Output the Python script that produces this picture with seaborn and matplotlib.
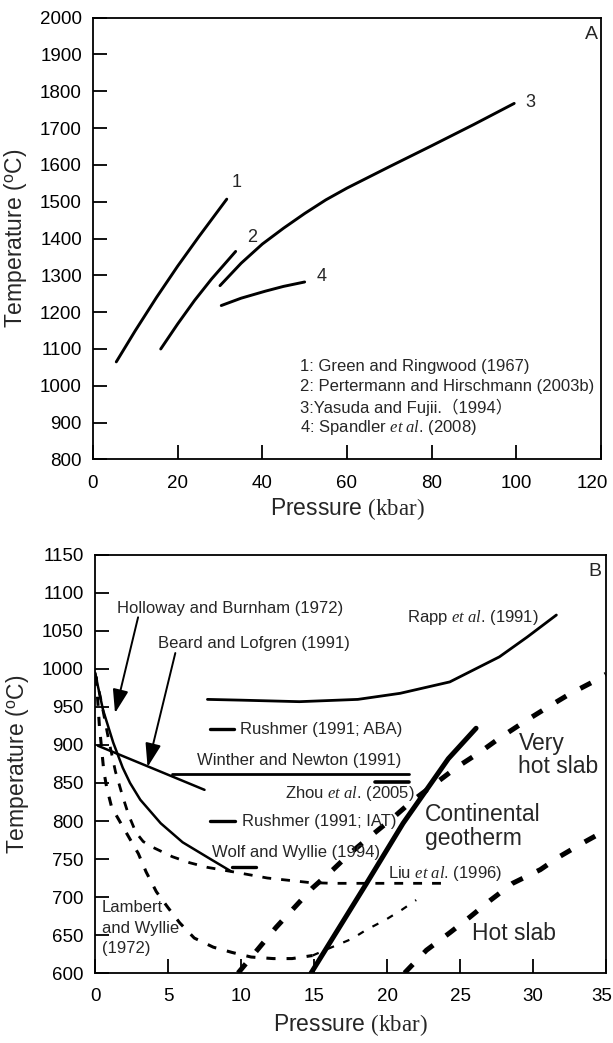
import matplotlib
matplotlib.use("Agg")
import matplotlib.pyplot as plt
import matplotlib.transforms as mtransforms
import seaborn as sns

sns.set_theme(style="ticks")
plt.rcParams["font.family"] = ["Liberation Sans", "Noto Sans CJK SC", "DejaVu Sans"]
plt.rcParams["mathtext.fontset"] = "custom"
plt.rcParams["mathtext.rm"] = "Liberation Serif"
plt.rcParams["mathtext.it"] = "Liberation Serif:italic"
plt.rcParams["mathtext.sf"] = "Liberation Sans"

# ---------------- Panel A: solidus curves ----------------
p_a1 = [5.5, 10, 15, 20, 25, 31.6]
t_a1 = [1065, 1150, 1240, 1325, 1405, 1507]
p_a2 = [16, 20, 24, 28, 33.7]
t_a2 = [1100, 1168, 1232, 1290, 1365]
p_a3 = [30, 35, 40, 45, 50, 55, 60, 70, 80, 90, 99.5]
t_a3 = [1272, 1333, 1385, 1428, 1468, 1505, 1537, 1595, 1652, 1710, 1767]
p_a4 = [30.3, 35, 40.7, 45, 50]
t_a4 = [1218, 1238, 1257, 1270, 1282]
curve_ids = ["1", "2", "3", "4"]
curve_label_p = [32.8, 36.3, 102.2, 52.9]
curve_label_t = [1553, 1404, 1769, 1298]
refs_a = ["1: Green and Ringwood (1967)",
          "2: Pertermann and Hirschmann (2003b)",
          "3:Yasuda and Fujii.\uff081994\uff09",
          r"4: Spandler $\mathit{et\ al}$. (2008)"]
refs_a_t = [1052, 999, 941, 888]
xticks_a = [0, 20, 40, 60, 80, 100, 120]
yticks_a = [800, 900, 1000, 1100, 1200, 1300, 1400, 1500, 1600, 1700, 1800, 1900, 2000]

# ---------------- Panel B: experimental melting curves ----------------
p_rapp = [7.7, 10, 14, 18, 20.9, 24.3, 27.7, 29.6, 31.6]
t_rapp = [960, 959, 957, 960, 968, 983, 1016, 1042, 1071]
p_holloway = [0, 0.55, 1.25, 1.9, 2.4, 3.1, 4.5, 6.0, 7.9, 9.3]
t_holloway = [995, 946, 903, 870, 850, 828, 797, 772, 750, 734]
p_beard = [0.2, 7.5]
t_beard = [899, 841]
p_winther = [5.3, 21.5]
t_winther = [862, 862]
p_zhou = [19.2, 21.5]
t_zhou = [851, 851]
p_rush_aba = [7.9, 9.5]
t_rush_aba = [921, 921]
p_rush_iat = [7.9, 9.6]
t_rush_iat = [800, 800]
p_wolf = [9.4, 11.0]
t_wolf = [739, 739]
p_liu = [0, 0.4, 0.9, 1.4, 1.9, 2.3, 2.8, 3.3, 4.0, 5.3, 6.5, 7.7, 9.5, 11.8, 14.7, 16.3, 20, 24]
t_liu = [995, 960, 910, 865, 832, 808, 785, 773, 765, 753, 745, 739, 733, 725, 719, 718, 718, 718]
p_lambert = [0.08, 0.3, 0.6, 0.8, 1.14, 1.83, 2.97, 3.5, 4.2, 5.0, 5.8, 6.8, 8.1, 9.4,
             10.7, 12.2, 13.5, 14.9]
t_lambert = [990, 925, 866, 844, 818, 795, 757, 733, 707, 686, 666, 646, 634, 627,
             621, 619, 619, 623]
p_lambert_hi = [14.9, 16.1, 17.6, 18.6, 19.9, 21, 22]
t_lambert_hi = [623, 633, 645, 657, 670, 683, 696]
p_geotherm = [14.8, 18.6, 21.1, 24.2, 26.1]
t_geotherm = [600, 718, 797, 882, 922]
p_very_hot = [9.8, 11.1, 12.4, 13.6, 14.9, 16.3, 17.5, 19, 20.4, 21.7, 24.8, 26.4,
              27.7, 29.6, 31.2, 32.5, 34.1, 35]
t_very_hot = [600, 630, 660, 685, 712, 736, 758, 782, 804, 826, 871, 891,
              909, 933, 952, 967, 983, 993]
p_hot = [21.2, 22.7, 24.3, 25.7, 27.1, 28.6, 30.5, 31.8, 33.4, 35]
t_hot = [600, 630, 653, 674, 696, 718, 736, 753, 771, 788]
xticks_b = [0, 5, 10, 15, 20, 25, 30, 35]
yticks_b = [600, 650, 700, 750, 800, 850, 900, 950, 1000, 1050, 1100, 1150]

fig = plt.figure(figsize=(6.13, 10.43), dpi=100)
ax_a = fig.add_axes([0.1517, 0.5595, 0.8287, 0.4236])
ax_b = fig.add_axes([0.155, 0.0671, 0.8336, 0.4008])

TICK_FS = 13.5
LABEL_FS = 16.5


def style_axes(ax, xticks, yticks, xlabelpad, last_shift):
    ax.set_xticks(xticks)
    ax.set_yticks(yticks)
    ax.set_xlim(xticks[0], xticks[-1])
    ax.set_ylim(yticks[0], yticks[-1])
    ax.tick_params(direction="in", length=10, width=1.3, labelsize=TICK_FS,
                   top=False, right=False, color="black", labelcolor="black")
    ax.tick_params(axis="x", pad=11)
    ax.tick_params(axis="y", pad=8)
    for s in ax.spines.values():
        s.set_linewidth(1.3)
        s.set_color("black")
    ax.set_xlabel(r"Pressure $\mathrm{(kbar)}$", fontsize=LABEL_FS, labelpad=xlabelpad)
    ax.set_ylabel(r"Temperature ($^{\mathsf{o}}$C)", fontsize=LABEL_FS, labelpad=8)
    ax.set_facecolor("white")
    # pull the right-most pressure label in so it stays on the canvas
    last = ax.get_xticklabels()[-1]
    last.set_transform(last.get_transform() +
                       mtransforms.ScaledTranslation(-last_shift / 72, 0, fig.dpi_scale_trans))


def curve(ax, p, t, lw=2.0, ls="-"):
    sns.lineplot(x=p, y=t, ax=ax, color="black", lw=lw, linestyle=ls,
                 estimator=None, sort=False, legend=False)


# Panel A
for p, t in [(p_a1, t_a1), (p_a2, t_a2), (p_a3, t_a3), (p_a4, t_a4)]:
    curve(ax_a, p, t, lw=2.1)
for cid, lp, lt in zip(curve_ids, curve_label_p, curve_label_t):
    ax_a.text(lp, lt, cid, fontsize=13, ha="left", va="center")
for ref, rt in zip(refs_a, refs_a_t):
    ax_a.text(49, rt, ref, fontsize=12, ha="left", va="center")
ax_a.text(119.3, 1955, "A", fontsize=14, ha="right", va="center")
style_axes(ax_a, xticks_a, yticks_a, xlabelpad=3, last_shift=6)

# Panel B
curve(ax_b, p_rapp, t_rapp, lw=2.0)
curve(ax_b, p_holloway, t_holloway, lw=1.8)
curve(ax_b, p_beard, t_beard, lw=1.8)
curve(ax_b, p_winther, t_winther, lw=2.0)
curve(ax_b, p_zhou, t_zhou, lw=2.6)
curve(ax_b, p_rush_aba, t_rush_aba, lw=2.4)
curve(ax_b, p_rush_iat, t_rush_iat, lw=2.4)
curve(ax_b, p_wolf, t_wolf, lw=2.4)
curve(ax_b, p_liu, t_liu, lw=2.0, ls=(0, (3.2, 3.6)))
curve(ax_b, p_lambert, t_lambert, lw=2.2, ls=(0, (3.0, 3.6)))
curve(ax_b, p_lambert_hi, t_lambert_hi, lw=1.6, ls=(0, (3.0, 4.5)))
curve(ax_b, p_geotherm, t_geotherm, lw=3.6)
curve(ax_b, p_very_hot, t_very_hot, lw=3.6, ls=(0, (2.4, 3.2)))
curve(ax_b, p_hot, t_hot, lw=3.6, ls=(0, (2.4, 3.2)))

arrow_kw = dict(arrowstyle="-|>,head_length=0.9,head_width=0.3", color="black",
                lw=1.4, mutation_scale=16, shrinkA=0, shrinkB=0)
ax_b.annotate("", xy=(1.37, 942), xytext=(2.95, 1068), arrowprops=arrow_kw)
ax_b.annotate("", xy=(3.6, 871), xytext=(5.5, 1021), arrowprops=arrow_kw)

FS = 12
ax_b.text(1.5, 1080, "Holloway and Burnham (1972)", fontsize=FS, ha="left", va="center")
ax_b.text(4.3, 1034, "Beard and Lofgren (1991)", fontsize=FS, ha="left", va="center")
ax_b.text(21.35, 1068, r"Rapp $\mathit{et\ al}$. (1991)", fontsize=FS, ha="left", va="center")
ax_b.text(9.93, 921, "Rushmer (1991; ABA)", fontsize=FS, ha="left", va="center")
ax_b.text(6.96, 880, "Winther and Newton (1991)", fontsize=FS, ha="left", va="center")
ax_b.text(21.9, 836, r"Zhou $\mathit{et\ al}$. (2005)", fontsize=FS, ha="right", va="center")
ax_b.text(10.05, 800, "Rushmer (1991; IAT)", fontsize=FS, ha="left", va="center")
ax_b.text(8.0, 759, "Wolf and Wyllie (1994)", fontsize=FS, ha="left", va="center")
ax_b.text(20.1, 731, r"Liu $\mathit{et\ al}$. (1996)", fontsize=FS, ha="left", va="center")
ax_b.text(0.46, 659, "Lambert\nand Wyllie\n(1972)", fontsize=FS, ha="left", va="center",
          linespacing=1.45)
ax_b.text(22.6, 793, "Continental\ngeotherm", fontsize=16.5, ha="left", va="center",
          linespacing=1.05)
ax_b.text(29.0, 887, "Very\nhot slab", fontsize=16.5, ha="left", va="center",
          linespacing=1.0)
ax_b.text(25.8, 652, "Hot slab", fontsize=16.5, ha="left", va="center")
ax_b.text(34.7, 1128, "B", fontsize=14, ha="right", va="center")
style_axes(ax_b, xticks_b, yticks_b, xlabelpad=5, last_shift=3)

fig.savefig("out.png", dpi=100, facecolor="white")
